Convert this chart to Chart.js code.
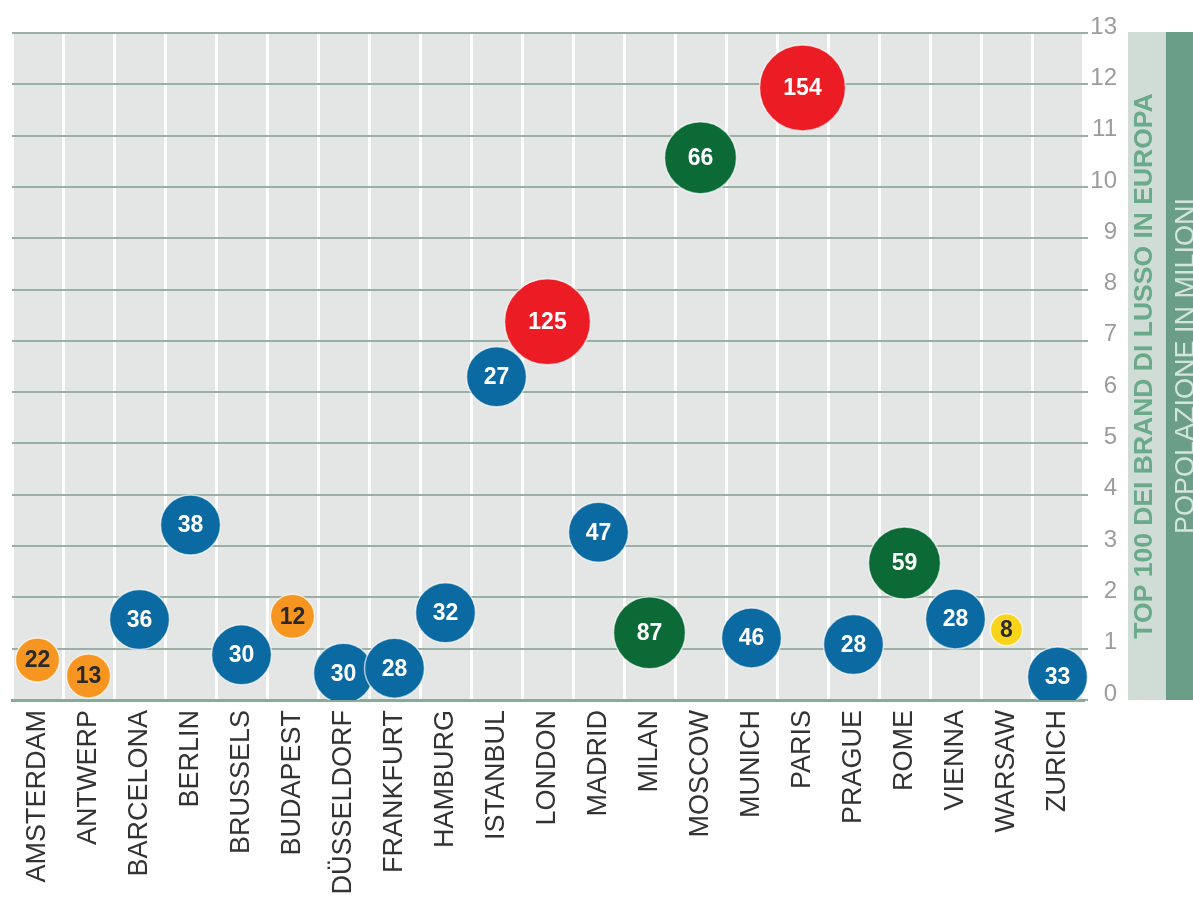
<!DOCTYPE html>
<html>
<head>
<meta charset="utf-8">
<script src="https://cdn.jsdelivr.net/npm/chart.js@4/dist/chart.umd.min.js"></script>
<style>
    body { margin: 0; background: #ffffff; }
    #wrap { width: 1193px; height: 901px; position: relative; }
</style>
</head>
<body>
<div id="wrap"><canvas id="chartBubbles"></canvas></div>
<script>
// cities on the x axis
const cities = ['AMSTERDAM', 'ANTWERP', 'BARCELONA', 'BERLIN', 'BRUSSELS', 'BUDAPEST', 'DÜSSELDORF',
    'FRANKFURT', 'HAMBURG', 'ISTANBUL', 'LONDON', 'MADRID', 'MILAN', 'MOSCOW', 'MUNICH', 'PARIS',
    'PRAGUE', 'ROME', 'VIENNA', 'WARSAW', 'ZURICH'];
// popolazione in milioni
const population = [0.78, 0.47, 1.57, 3.41, 0.88, 1.63, 0.52, 0.62, 1.70, 6.30, 7.37, 3.27, 1.31,
    10.57, 1.21, 11.93, 1.08, 2.67, 1.58, 1.37, 0.45];
// numero di brand del lusso (top 100) presenti in città
const brands = [22, 13, 36, 38, 30, 12, 30, 28, 32, 27, 125, 47, 87, 66, 46, 154, 28, 59, 28, 8, 33];
const yTicks = [0, 1, 2, 3, 4, 5, 6, 7, 8, 9, 10, 11, 12, 13];

const sideTitle = 'TOP 100 DEI BRAND DI LUSSO IN EUROPA';
const sideSubtitle = 'POPOLAZIONE IN MILIONI';

const FONT = '"Liberation Sans", Arial, Helvetica, sans-serif';

// fascia di colore/dimensione in base al numero di brand
function band(n) {
    if (n >= 100) return { fill: '#ec1c24', text: '#ffffff', r: 43 };
    if (n >= 50) return { fill: '#0b6a36', text: '#ffffff', r: 36 };
    if (n >= 25) return { fill: '#0c6aa3', text: '#ffffff', r: 30 };
    if (n >= 10) return { fill: '#f6951f', text: '#2a2a2a', r: 22 };
    return { fill: '#f9d41b', text: '#2a2a2a', r: 16 };
}

const plotBackground = {
    id: 'plotBackground',
    beforeDraw(chart) {
        const { ctx, chartArea: a } = chart;
        ctx.save();
        ctx.fillStyle = '#e3e6e4';
        ctx.fillRect(a.left, a.top, a.right - a.left, a.bottom - a.top);
        ctx.restore();
    }
};

// le due fasce verticali a destra con i titoli
const sidePanel = {
    id: 'sidePanel',
    afterDraw(chart) {
        const { ctx, chartArea: a, width } = chart;
        const x0 = 1128, x1 = 1166;
        const top = a.top - 1, bottom = a.bottom;
        ctx.save();
        ctx.fillStyle = '#d0ddd6';
        ctx.fillRect(x0, top, x1 - x0, bottom - top);
        ctx.fillStyle = '#6b9e86';
        ctx.fillRect(x1, top, width - x1, bottom - top);

        const midY = (top + bottom) / 2;
        ctx.textAlign = 'center';
        ctx.textBaseline = 'middle';

        ctx.save();
        ctx.translate(x0 + 17, midY);
        ctx.rotate(-Math.PI / 2);
        ctx.font = 'bold 26.5px ' + FONT;
        ctx.fillStyle = '#6aa98a';
        ctx.fillText(sideTitle, 0, 0);
        ctx.restore();

        ctx.save();
        ctx.translate(x1 + 21, midY);
        ctx.rotate(-Math.PI / 2);
        ctx.font = '27px ' + FONT;
        ctx.fillStyle = '#d3e5da';
        ctx.fillText(sideSubtitle, 0, 0);
        ctx.restore();
        ctx.restore();
    }
};

const bubbleLabels = {
    id: 'bubbleLabels',
    afterDatasetsDraw(chart) {
        const { ctx } = chart;
        const meta = chart.getDatasetMeta(0);
        ctx.save();
        ctx.font = 'bold 23px ' + FONT;
        ctx.textAlign = 'center';
        ctx.textBaseline = 'middle';
        meta.data.forEach((el, i) => {
            ctx.fillStyle = band(brands[i]).text;
            ctx.fillText(String(brands[i]), el.x, el.y + 1);
        });
        ctx.restore();
    }
};

const ctx = document.getElementById('chartBubbles').getContext('2d');
const chart = new Chart(ctx, {
    type: 'bubble',
    data: {
        labels: cities,
        datasets: [{
            data: cities.map((c, i) => ({ x: c, y: population[i] })),
            backgroundColor: c => band(brands[c.dataIndex]).fill,
            borderColor: 'rgba(255,255,255,0.65)',
            borderWidth: 1.5,
            radius: c => band(brands[c.dataIndex]).r
        }]
    },
    options: {
        responsive: true,
        maintainAspectRatio: false,
        animation: false,
        events: [],
        layout: {
            autoPadding: false,
            padding: { left: 12, top: 33, right: 76, bottom: 0 }
        },
        plugins: {
            legend: { display: false },
            tooltip: { enabled: false }
        },
        scales: {
            x: {
                type: 'category',
                offset: true,
                grid: { offset: true, color: '#ffffff', lineWidth: 3, drawTicks: false },
                border: { display: true, color: '#86ab98', width: 3 },
                ticks: {
                    autoSkip: false,
                    minRotation: 90,
                    maxRotation: 90,
                    padding: 10,
                    color: '#333333',
                    font: { family: FONT, size: 27 }
                },
                afterFit: s => {
                    s.height = 201;
                    s.paddingLeft = 0;
                    s.paddingRight = 0;
                }
            },
            y: {
                position: 'right',
                min: 0,
                max: 13,
                afterBuildTicks: s => { s.ticks = yTicks.map(v => ({ value: v })); },
                grid: { color: '#9bb0a5', lineWidth: 2, tickLength: 5 },
                border: { display: false },
                ticks: {
                    padding: 1,
                    crossAlign: 'far',
                    labelOffset: -6,
                    color: '#9c9c9c',
                    font: { family: FONT, size: 24 }
                },
                afterFit: s => {
                    s.width = 34;
                    s.paddingTop = 0;
                    s.paddingBottom = 0;
                }
            }
        }
    },
    plugins: [plotBackground, bubbleLabels, sidePanel]
});
</script>
</body>
</html>
